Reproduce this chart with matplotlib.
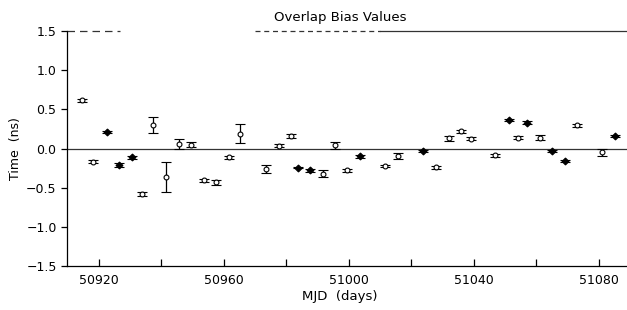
import matplotlib
matplotlib.use("Agg")
import matplotlib.pyplot as plt
import numpy as np

# MJD, bias (ns), error, filled marker flag
mjd = [50914.5, 50918.2, 50922.5, 50926.4, 50930.5, 50933.7, 50937.4, 50941.4,
       50945.5, 50949.4, 50953.6, 50957.4, 50961.5, 50965.3, 50973.6, 50977.5,
       50981.4, 50983.6, 50987.5, 50991.6, 50995.6, 50999.3, 51003.5, 51011.7,
       51015.8, 51023.8, 51028.0, 51031.9, 51036.0, 51039.0, 51046.8, 51051.1,
       51054.2, 51056.9, 51061.1, 51064.9, 51069.1, 51072.9, 51081.1, 51085.1]
bias = [0.615, -0.17, 0.21, -0.21, -0.11, -0.58, 0.30, -0.36,
        0.06, 0.047, -0.405, -0.43, -0.11, 0.19, -0.265, 0.035,
        0.16, -0.245, -0.28, -0.32, 0.04, -0.28, -0.10, -0.22,
        -0.10, -0.03, -0.24, 0.13, 0.22, 0.125, -0.085, 0.36,
        0.137, 0.33, 0.137, -0.03, -0.16, 0.295, -0.05, 0.16]
err = [0.02, 0.02, 0.015, 0.02, 0.02, 0.02, 0.10, 0.19,
       0.065, 0.03, 0.02, 0.03, 0.02, 0.12, 0.05, 0.02,
       0.02, 0.01, 0.015, 0.045, 0.04, 0.015, 0.015, 0.015,
       0.04, 0.015, 0.02, 0.03, 0.02, 0.02, 0.02, 0.015,
       0.02, 0.015, 0.03, 0.015, 0.015, 0.02, 0.04, 0.015]
filled = [0, 0, 1, 1, 1, 0, 0, 0,
          0, 0, 0, 0, 0, 0, 0, 0,
          0, 1, 1, 0, 0, 0, 1, 0,
          0, 1, 0, 0, 0, 0, 0, 1,
          0, 1, 0, 1, 1, 0, 0, 1]

title = "Overlap Bias Values"
xlabel = "MJD  (days)"
ylabel = "Time  (ns)"
xticks = [50920, 50960, 51000, 51040, 51080]
xminor = [50940, 50980, 51020, 51060]
yticks = [-1.5, -1.0, -0.5, 0.0, 0.5, 1.0, 1.5]

plt.rcParams['font.family'] = ['DejaVu Sans']
fig = plt.figure(figsize=(6.27, 3.10), dpi=100)
ax = fig.add_axes([67/627, 44/310, 560/627, 235/310])

mjd_a = np.array(mjd); bias_a = np.array(bias); err_a = np.array(err)
f = np.array(filled, dtype=bool)

ax.axhline(0.0, color='#333333', lw=0.9, zorder=1)

ax.errorbar(mjd_a[~f], bias_a[~f], yerr=err_a[~f], fmt='o', ms=3.5,
            mfc='white', mec='black', mew=0.8, ecolor='black', elinewidth=0.9,
            capsize=3.5, capthick=0.9, zorder=3)
ax.errorbar(mjd_a[f], bias_a[f], yerr=err_a[f], fmt='D', ms=3.5,
            mfc='black', mec='black', mew=0.8, ecolor='black', elinewidth=0.9,
            capsize=3.5, capthick=0.9, zorder=3)

ax.set_xlim(50909.8, 51089.0)
ax.set_ylim(-1.5, 1.5)
ax.set_xticks(xticks)
ax.set_xticks(xminor, minor=True)
ax.set_yticks(yticks)
ax.set_yticklabels([f"{v:.1f}".replace('-', '\u2212') for v in yticks])

ax.tick_params(axis='x', which='both', direction='in', length=5, width=0.9,
               labelsize=9, pad=6, top=False)
ax.tick_params(axis='y', which='both', direction='out', length=4, width=0.9,
               labelsize=9, right=False)

for s in ['top', 'right']:
    ax.spines[s].set_visible(False)
for s in ['left', 'bottom']:
    ax.spines[s].set_linewidth(0.9)

# broken top frame line as in the original rendering
ax.plot([0.0, 0.095], [1, 1], transform=ax.transAxes, color='#333333',
        lw=0.9, ls=(0, (6, 4)), clip_on=False)
ax.plot([0.336, 0.559], [1, 1], transform=ax.transAxes, color='#333333',
        lw=0.9, ls=(0, (4, 3)), clip_on=False)
ax.plot([0.559, 1.0], [1, 1], transform=ax.transAxes, color='#333333',
        lw=0.9, clip_on=False)

ax.set_title(title, fontsize=9.5, pad=7, x=(340-67)/560)
ax.set_xlabel(xlabel, fontsize=9.5, labelpad=2, x=(340-67)/560)
ax.set_ylabel(ylabel, fontsize=9, labelpad=3)

fig.savefig("out.png", dpi=100)
